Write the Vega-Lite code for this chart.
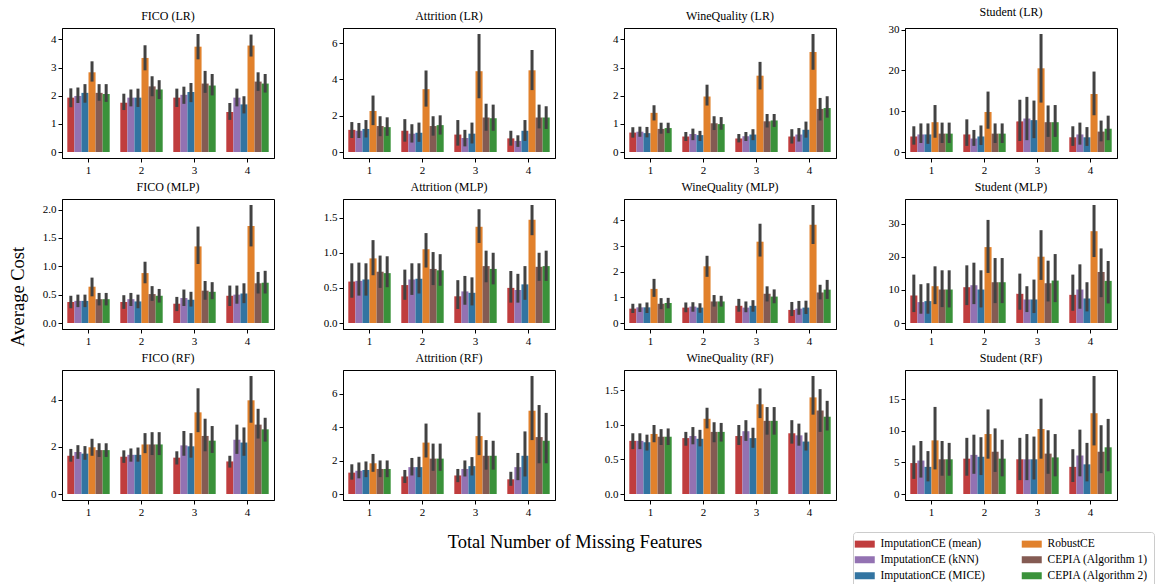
{
  "$schema": "https://vega.github.io/schema/vega-lite/v6.json",
  "background": "white",
  "padding": {"left": 8, "top": 5, "right": 5, "bottom": 5},
  "title": {"text": "Average Cost", "orient": "left", "anchor": "middle", "font": "Liberation Serif", "fontSize": 18.5, "fontWeight": "normal", "color": "#000", "offset": 4},
  "data": {"values": [
    {"panel":"FICO (LR)","missing":1,"method":"ImputationCE (mean)","cost":1.93,"lo":1.59,"hi":2.26},
    {"panel":"FICO (LR)","missing":1,"method":"ImputationCE (kNN)","cost":1.99,"lo":1.74,"hi":2.29},
    {"panel":"FICO (LR)","missing":1,"method":"ImputationCE (MICE)","cost":2.10,"lo":1.75,"hi":2.41},
    {"panel":"FICO (LR)","missing":1,"method":"RobustCE","cost":2.83,"lo":2.50,"hi":3.22},
    {"panel":"FICO (LR)","missing":1,"method":"CEPIA (Algorithm 1)","cost":2.10,"lo":1.82,"hi":2.41},
    {"panel":"FICO (LR)","missing":1,"method":"CEPIA (Algorithm 2)","cost":2.06,"lo":1.78,"hi":2.41},
    {"panel":"FICO (LR)","missing":2,"method":"ImputationCE (mean)","cost":1.75,"lo":1.49,"hi":2.07},
    {"panel":"FICO (LR)","missing":2,"method":"ImputationCE (kNN)","cost":1.93,"lo":1.62,"hi":2.22},
    {"panel":"FICO (LR)","missing":2,"method":"ImputationCE (MICE)","cost":1.93,"lo":1.60,"hi":2.25},
    {"panel":"FICO (LR)","missing":2,"method":"RobustCE","cost":3.34,"lo":2.90,"hi":3.79},
    {"panel":"FICO (LR)","missing":2,"method":"CEPIA (Algorithm 1)","cost":2.33,"lo":1.98,"hi":2.69},
    {"panel":"FICO (LR)","missing":2,"method":"CEPIA (Algorithm 2)","cost":2.22,"lo":1.88,"hi":2.55},
    {"panel":"FICO (LR)","missing":3,"method":"ImputationCE (mean)","cost":1.93,"lo":1.60,"hi":2.25},
    {"panel":"FICO (LR)","missing":3,"method":"ImputationCE (kNN)","cost":2.03,"lo":1.71,"hi":2.32},
    {"panel":"FICO (LR)","missing":3,"method":"ImputationCE (MICE)","cost":2.13,"lo":1.77,"hi":2.45},
    {"panel":"FICO (LR)","missing":3,"method":"RobustCE","cost":3.74,"lo":3.29,"hi":4.19},
    {"panel":"FICO (LR)","missing":3,"method":"CEPIA (Algorithm 1)","cost":2.43,"lo":2.10,"hi":2.88},
    {"panel":"FICO (LR)","missing":3,"method":"CEPIA (Algorithm 2)","cost":2.36,"lo":2.01,"hi":2.77},
    {"panel":"FICO (LR)","missing":4,"method":"ImputationCE (mean)","cost":1.42,"lo":1.14,"hi":1.74},
    {"panel":"FICO (LR)","missing":4,"method":"ImputationCE (kNN)","cost":1.93,"lo":1.62,"hi":2.25},
    {"panel":"FICO (LR)","missing":4,"method":"ImputationCE (MICE)","cost":1.69,"lo":1.37,"hi":1.98},
    {"panel":"FICO (LR)","missing":4,"method":"RobustCE","cost":3.78,"lo":3.39,"hi":4.17},
    {"panel":"FICO (LR)","missing":4,"method":"CEPIA (Algorithm 1)","cost":2.50,"lo":2.17,"hi":2.83},
    {"panel":"FICO (LR)","missing":4,"method":"CEPIA (Algorithm 2)","cost":2.43,"lo":2.11,"hi":2.77},

    {"panel":"Attrition (LR)","missing":1,"method":"ImputationCE (mean)","cost":1.22,"lo":0.77,"hi":1.65},
    {"panel":"Attrition (LR)","missing":1,"method":"ImputationCE (kNN)","cost":1.17,"lo":0.77,"hi":1.60},
    {"panel":"Attrition (LR)","missing":1,"method":"ImputationCE (MICE)","cost":1.27,"lo":0.80,"hi":1.76},
    {"panel":"Attrition (LR)","missing":1,"method":"RobustCE","cost":2.26,"lo":1.48,"hi":3.11},
    {"panel":"Attrition (LR)","missing":1,"method":"CEPIA (Algorithm 1)","cost":1.43,"lo":0.87,"hi":1.97},
    {"panel":"Attrition (LR)","missing":1,"method":"CEPIA (Algorithm 2)","cost":1.37,"lo":0.89,"hi":1.91},
    {"panel":"Attrition (LR)","missing":2,"method":"ImputationCE (mean)","cost":1.17,"lo":0.57,"hi":1.81},
    {"panel":"Attrition (LR)","missing":2,"method":"ImputationCE (kNN)","cost":1.01,"lo":0.52,"hi":1.53},
    {"panel":"Attrition (LR)","missing":2,"method":"ImputationCE (MICE)","cost":1.06,"lo":0.56,"hi":1.62},
    {"panel":"Attrition (LR)","missing":2,"method":"RobustCE","cost":3.46,"lo":2.50,"hi":4.49},
    {"panel":"Attrition (LR)","missing":2,"method":"CEPIA (Algorithm 1)","cost":1.43,"lo":0.90,"hi":1.97},
    {"panel":"Attrition (LR)","missing":2,"method":"CEPIA (Algorithm 2)","cost":1.48,"lo":0.96,"hi":2.02},
    {"panel":"Attrition (LR)","missing":3,"method":"ImputationCE (mean)","cost":0.96,"lo":0.35,"hi":1.76},
    {"panel":"Attrition (LR)","missing":3,"method":"ImputationCE (kNN)","cost":0.77,"lo":0.31,"hi":1.22},
    {"panel":"Attrition (LR)","missing":3,"method":"ImputationCE (MICE)","cost":1.01,"lo":0.47,"hi":1.62},
    {"panel":"Attrition (LR)","missing":3,"method":"RobustCE","cost":4.45,"lo":2.96,"hi":6.50},
    {"panel":"Attrition (LR)","missing":3,"method":"CEPIA (Algorithm 1)","cost":1.90,"lo":1.17,"hi":2.66},
    {"panel":"Attrition (LR)","missing":3,"method":"CEPIA (Algorithm 2)","cost":1.86,"lo":1.17,"hi":2.61},
    {"panel":"Attrition (LR)","missing":4,"method":"ImputationCE (mean)","cost":0.75,"lo":0.35,"hi":1.17},
    {"panel":"Attrition (LR)","missing":4,"method":"ImputationCE (kNN)","cost":0.61,"lo":0.28,"hi":0.92},
    {"panel":"Attrition (LR)","missing":4,"method":"ImputationCE (MICE)","cost":1.17,"lo":0.61,"hi":1.76},
    {"panel":"Attrition (LR)","missing":4,"method":"RobustCE","cost":4.50,"lo":3.41,"hi":5.62},
    {"panel":"Attrition (LR)","missing":4,"method":"CEPIA (Algorithm 1)","cost":1.90,"lo":1.30,"hi":2.61},
    {"panel":"Attrition (LR)","missing":4,"method":"CEPIA (Algorithm 2)","cost":1.90,"lo":1.27,"hi":2.52},

    {"panel":"WineQuality (LR)","missing":1,"method":"ImputationCE (mean)","cost":0.69,"lo":0.51,"hi":0.88},
    {"panel":"WineQuality (LR)","missing":1,"method":"ImputationCE (kNN)","cost":0.72,"lo":0.54,"hi":0.90},
    {"panel":"WineQuality (LR)","missing":1,"method":"ImputationCE (MICE)","cost":0.67,"lo":0.52,"hi":0.89},
    {"panel":"WineQuality (LR)","missing":1,"method":"RobustCE","cost":1.39,"lo":1.12,"hi":1.66},
    {"panel":"WineQuality (LR)","missing":1,"method":"CEPIA (Algorithm 1)","cost":0.82,"lo":0.65,"hi":1.04},
    {"panel":"WineQuality (LR)","missing":1,"method":"CEPIA (Algorithm 2)","cost":0.85,"lo":0.67,"hi":1.04},
    {"panel":"WineQuality (LR)","missing":2,"method":"ImputationCE (mean)","cost":0.55,"lo":0.39,"hi":0.71},
    {"panel":"WineQuality (LR)","missing":2,"method":"ImputationCE (kNN)","cost":0.64,"lo":0.42,"hi":0.83},
    {"panel":"WineQuality (LR)","missing":2,"method":"ImputationCE (MICE)","cost":0.60,"lo":0.39,"hi":0.75},
    {"panel":"WineQuality (LR)","missing":2,"method":"RobustCE","cost":1.97,"lo":1.65,"hi":2.39},
    {"panel":"WineQuality (LR)","missing":2,"method":"CEPIA (Algorithm 1)","cost":1.02,"lo":0.78,"hi":1.27},
    {"panel":"WineQuality (LR)","missing":2,"method":"CEPIA (Algorithm 2)","cost":0.99,"lo":0.79,"hi":1.24},
    {"panel":"WineQuality (LR)","missing":3,"method":"ImputationCE (mean)","cost":0.48,"lo":0.34,"hi":0.64},
    {"panel":"WineQuality (LR)","missing":3,"method":"ImputationCE (kNN)","cost":0.56,"lo":0.39,"hi":0.71},
    {"panel":"WineQuality (LR)","missing":3,"method":"ImputationCE (MICE)","cost":0.62,"lo":0.42,"hi":0.81},
    {"panel":"WineQuality (LR)","missing":3,"method":"RobustCE","cost":2.71,"lo":2.22,"hi":3.20},
    {"panel":"WineQuality (LR)","missing":3,"method":"CEPIA (Algorithm 1)","cost":1.09,"lo":0.87,"hi":1.35},
    {"panel":"WineQuality (LR)","missing":3,"method":"CEPIA (Algorithm 2)","cost":1.12,"lo":0.89,"hi":1.35},
    {"panel":"WineQuality (LR)","missing":4,"method":"ImputationCE (mean)","cost":0.55,"lo":0.30,"hi":0.81},
    {"panel":"WineQuality (LR)","missing":4,"method":"ImputationCE (kNN)","cost":0.62,"lo":0.37,"hi":0.85},
    {"panel":"WineQuality (LR)","missing":4,"method":"ImputationCE (MICE)","cost":0.79,"lo":0.51,"hi":1.08},
    {"panel":"WineQuality (LR)","missing":4,"method":"RobustCE","cost":3.55,"lo":2.92,"hi":4.19},
    {"panel":"WineQuality (LR)","missing":4,"method":"CEPIA (Algorithm 1)","cost":1.53,"lo":1.12,"hi":1.92},
    {"panel":"WineQuality (LR)","missing":4,"method":"CEPIA (Algorithm 2)","cost":1.56,"lo":1.22,"hi":1.98},

    {"panel":"Student (LR)","missing":1,"method":"ImputationCE (mean)","cost":3.8,"lo":1.8,"hi":6.3},
    {"panel":"Student (LR)","missing":1,"method":"ImputationCE (kNN)","cost":4.3,"lo":2.2,"hi":7.0},
    {"panel":"Student (LR)","missing":1,"method":"ImputationCE (MICE)","cost":4.3,"lo":2.0,"hi":7.0},
    {"panel":"Student (LR)","missing":1,"method":"RobustCE","cost":7.3,"lo":3.5,"hi":11.5},
    {"panel":"Student (LR)","missing":1,"method":"CEPIA (Algorithm 1)","cost":4.5,"lo":2.2,"hi":7.2},
    {"panel":"Student (LR)","missing":1,"method":"CEPIA (Algorithm 2)","cost":4.5,"lo":2.2,"hi":7.2},
    {"panel":"Student (LR)","missing":2,"method":"ImputationCE (mean)","cost":4.3,"lo":1.5,"hi":8.0},
    {"panel":"Student (LR)","missing":2,"method":"ImputationCE (kNN)","cost":3.3,"lo":1.5,"hi":5.4},
    {"panel":"Student (LR)","missing":2,"method":"ImputationCE (MICE)","cost":3.8,"lo":1.7,"hi":6.5},
    {"panel":"Student (LR)","missing":2,"method":"RobustCE","cost":9.8,"lo":5.7,"hi":14.8},
    {"panel":"Student (LR)","missing":2,"method":"CEPIA (Algorithm 1)","cost":4.5,"lo":2.2,"hi":7.0},
    {"panel":"Student (LR)","missing":2,"method":"CEPIA (Algorithm 2)","cost":4.5,"lo":2.2,"hi":7.0},
    {"panel":"Student (LR)","missing":3,"method":"ImputationCE (mean)","cost":7.5,"lo":2.7,"hi":12.8},
    {"panel":"Student (LR)","missing":3,"method":"ImputationCE (kNN)","cost":8.2,"lo":2.9,"hi":13.5},
    {"panel":"Student (LR)","missing":3,"method":"ImputationCE (MICE)","cost":7.8,"lo":3.4,"hi":12.6},
    {"panel":"Student (LR)","missing":3,"method":"RobustCE","cost":20.5,"lo":12.1,"hi":28.9},
    {"panel":"Student (LR)","missing":3,"method":"CEPIA (Algorithm 1)","cost":7.3,"lo":3.7,"hi":11.4},
    {"panel":"Student (LR)","missing":3,"method":"CEPIA (Algorithm 2)","cost":7.3,"lo":3.7,"hi":11.5},
    {"panel":"Student (LR)","missing":4,"method":"ImputationCE (mean)","cost":3.6,"lo":1.5,"hi":6.3},
    {"panel":"Student (LR)","missing":4,"method":"ImputationCE (kNN)","cost":4.3,"lo":1.8,"hi":7.2},
    {"panel":"Student (LR)","missing":4,"method":"ImputationCE (MICE)","cost":3.6,"lo":1.5,"hi":6.1},
    {"panel":"Student (LR)","missing":4,"method":"RobustCE","cost":14.2,"lo":9.0,"hi":19.7},
    {"panel":"Student (LR)","missing":4,"method":"CEPIA (Algorithm 1)","cost":5.0,"lo":2.6,"hi":7.7},
    {"panel":"Student (LR)","missing":4,"method":"CEPIA (Algorithm 2)","cost":5.7,"lo":2.9,"hi":8.9},

    {"panel":"FICO (MLP)","missing":1,"method":"ImputationCE (mean)","cost":0.37,"lo":0.26,"hi":0.48},
    {"panel":"FICO (MLP)","missing":1,"method":"ImputationCE (kNN)","cost":0.39,"lo":0.28,"hi":0.50},
    {"panel":"FICO (MLP)","missing":1,"method":"ImputationCE (MICE)","cost":0.39,"lo":0.28,"hi":0.50},
    {"panel":"FICO (MLP)","missing":1,"method":"RobustCE","cost":0.64,"lo":0.47,"hi":0.80},
    {"panel":"FICO (MLP)","missing":1,"method":"CEPIA (Algorithm 1)","cost":0.42,"lo":0.31,"hi":0.53},
    {"panel":"FICO (MLP)","missing":1,"method":"CEPIA (Algorithm 2)","cost":0.42,"lo":0.31,"hi":0.53},
    {"panel":"FICO (MLP)","missing":2,"method":"ImputationCE (mean)","cost":0.37,"lo":0.25,"hi":0.49},
    {"panel":"FICO (MLP)","missing":2,"method":"ImputationCE (kNN)","cost":0.42,"lo":0.30,"hi":0.53},
    {"panel":"FICO (MLP)","missing":2,"method":"ImputationCE (MICE)","cost":0.38,"lo":0.26,"hi":0.50},
    {"panel":"FICO (MLP)","missing":2,"method":"RobustCE","cost":0.88,"lo":0.70,"hi":1.08},
    {"panel":"FICO (MLP)","missing":2,"method":"CEPIA (Algorithm 1)","cost":0.51,"lo":0.39,"hi":0.65},
    {"panel":"FICO (MLP)","missing":2,"method":"CEPIA (Algorithm 2)","cost":0.48,"lo":0.36,"hi":0.60},
    {"panel":"FICO (MLP)","missing":3,"method":"ImputationCE (mean)","cost":0.34,"lo":0.21,"hi":0.46},
    {"panel":"FICO (MLP)","missing":3,"method":"ImputationCE (kNN)","cost":0.44,"lo":0.30,"hi":0.59},
    {"panel":"FICO (MLP)","missing":3,"method":"ImputationCE (MICE)","cost":0.41,"lo":0.29,"hi":0.55},
    {"panel":"FICO (MLP)","missing":3,"method":"RobustCE","cost":1.35,"lo":1.04,"hi":1.70},
    {"panel":"FICO (MLP)","missing":3,"method":"CEPIA (Algorithm 1)","cost":0.57,"lo":0.41,"hi":0.74},
    {"panel":"FICO (MLP)","missing":3,"method":"CEPIA (Algorithm 2)","cost":0.55,"lo":0.42,"hi":0.72},
    {"panel":"FICO (MLP)","missing":4,"method":"ImputationCE (mean)","cost":0.48,"lo":0.30,"hi":0.66},
    {"panel":"FICO (MLP)","missing":4,"method":"ImputationCE (kNN)","cost":0.50,"lo":0.34,"hi":0.66},
    {"panel":"FICO (MLP)","missing":4,"method":"ImputationCE (MICE)","cost":0.52,"lo":0.35,"hi":0.70},
    {"panel":"FICO (MLP)","missing":4,"method":"RobustCE","cost":1.71,"lo":1.35,"hi":2.08},
    {"panel":"FICO (MLP)","missing":4,"method":"CEPIA (Algorithm 1)","cost":0.70,"lo":0.52,"hi":0.90},
    {"panel":"FICO (MLP)","missing":4,"method":"CEPIA (Algorithm 2)","cost":0.71,"lo":0.52,"hi":0.92},

    {"panel":"Attrition (MLP)","missing":1,"method":"ImputationCE (mean)","cost":0.59,"lo":0.36,"hi":0.85},
    {"panel":"Attrition (MLP)","missing":1,"method":"ImputationCE (kNN)","cost":0.60,"lo":0.39,"hi":0.86},
    {"panel":"Attrition (MLP)","missing":1,"method":"ImputationCE (MICE)","cost":0.62,"lo":0.39,"hi":0.85},
    {"panel":"Attrition (MLP)","missing":1,"method":"RobustCE","cost":0.92,"lo":0.68,"hi":1.18},
    {"panel":"Attrition (MLP)","missing":1,"method":"CEPIA (Algorithm 1)","cost":0.73,"lo":0.50,"hi":0.96},
    {"panel":"Attrition (MLP)","missing":1,"method":"CEPIA (Algorithm 2)","cost":0.71,"lo":0.51,"hi":0.95},
    {"panel":"Attrition (MLP)","missing":2,"method":"ImputationCE (mean)","cost":0.54,"lo":0.33,"hi":0.76},
    {"panel":"Attrition (MLP)","missing":2,"method":"ImputationCE (kNN)","cost":0.62,"lo":0.40,"hi":0.85},
    {"panel":"Attrition (MLP)","missing":2,"method":"ImputationCE (MICE)","cost":0.63,"lo":0.42,"hi":0.85},
    {"panel":"Attrition (MLP)","missing":2,"method":"RobustCE","cost":1.05,"lo":0.79,"hi":1.28},
    {"panel":"Attrition (MLP)","missing":2,"method":"CEPIA (Algorithm 1)","cost":0.77,"lo":0.54,"hi":1.01},
    {"panel":"Attrition (MLP)","missing":2,"method":"CEPIA (Algorithm 2)","cost":0.75,"lo":0.53,"hi":0.98},
    {"panel":"Attrition (MLP)","missing":3,"method":"ImputationCE (mean)","cost":0.38,"lo":0.20,"hi":0.61},
    {"panel":"Attrition (MLP)","missing":3,"method":"ImputationCE (kNN)","cost":0.45,"lo":0.26,"hi":0.67},
    {"panel":"Attrition (MLP)","missing":3,"method":"ImputationCE (MICE)","cost":0.43,"lo":0.25,"hi":0.65},
    {"panel":"Attrition (MLP)","missing":3,"method":"RobustCE","cost":1.37,"lo":1.14,"hi":1.62},
    {"panel":"Attrition (MLP)","missing":3,"method":"CEPIA (Algorithm 1)","cost":0.81,"lo":0.58,"hi":1.03},
    {"panel":"Attrition (MLP)","missing":3,"method":"CEPIA (Algorithm 2)","cost":0.77,"lo":0.55,"hi":1.00},
    {"panel":"Attrition (MLP)","missing":4,"method":"ImputationCE (mean)","cost":0.50,"lo":0.29,"hi":0.74},
    {"panel":"Attrition (MLP)","missing":4,"method":"ImputationCE (kNN)","cost":0.47,"lo":0.29,"hi":0.70},
    {"panel":"Attrition (MLP)","missing":4,"method":"ImputationCE (MICE)","cost":0.55,"lo":0.33,"hi":0.81},
    {"panel":"Attrition (MLP)","missing":4,"method":"RobustCE","cost":1.47,"lo":1.25,"hi":1.68},
    {"panel":"Attrition (MLP)","missing":4,"method":"CEPIA (Algorithm 1)","cost":0.80,"lo":0.60,"hi":1.00},
    {"panel":"Attrition (MLP)","missing":4,"method":"CEPIA (Algorithm 2)","cost":0.81,"lo":0.60,"hi":1.03},

    {"panel":"WineQuality (MLP)","missing":1,"method":"ImputationCE (mean)","cost":0.56,"lo":0.39,"hi":0.75},
    {"panel":"WineQuality (MLP)","missing":1,"method":"ImputationCE (kNN)","cost":0.61,"lo":0.43,"hi":0.76},
    {"panel":"WineQuality (MLP)","missing":1,"method":"ImputationCE (MICE)","cost":0.61,"lo":0.39,"hi":0.80},
    {"panel":"WineQuality (MLP)","missing":1,"method":"RobustCE","cost":1.33,"lo":1.02,"hi":1.72},
    {"panel":"WineQuality (MLP)","missing":1,"method":"CEPIA (Algorithm 1)","cost":0.75,"lo":0.54,"hi":0.97},
    {"panel":"WineQuality (MLP)","missing":1,"method":"CEPIA (Algorithm 2)","cost":0.78,"lo":0.57,"hi":0.98},
    {"panel":"WineQuality (MLP)","missing":2,"method":"ImputationCE (mean)","cost":0.60,"lo":0.42,"hi":0.80},
    {"panel":"WineQuality (MLP)","missing":2,"method":"ImputationCE (kNN)","cost":0.64,"lo":0.44,"hi":0.81},
    {"panel":"WineQuality (MLP)","missing":2,"method":"ImputationCE (MICE)","cost":0.60,"lo":0.40,"hi":0.77},
    {"panel":"WineQuality (MLP)","missing":2,"method":"RobustCE","cost":2.21,"lo":1.80,"hi":2.62},
    {"panel":"WineQuality (MLP)","missing":2,"method":"CEPIA (Algorithm 1)","cost":0.84,"lo":0.64,"hi":1.09},
    {"panel":"WineQuality (MLP)","missing":2,"method":"CEPIA (Algorithm 2)","cost":0.84,"lo":0.64,"hi":1.06},
    {"panel":"WineQuality (MLP)","missing":3,"method":"ImputationCE (mean)","cost":0.67,"lo":0.44,"hi":0.94},
    {"panel":"WineQuality (MLP)","missing":3,"method":"ImputationCE (kNN)","cost":0.60,"lo":0.42,"hi":0.84},
    {"panel":"WineQuality (MLP)","missing":3,"method":"ImputationCE (MICE)","cost":0.67,"lo":0.44,"hi":0.89},
    {"panel":"WineQuality (MLP)","missing":3,"method":"RobustCE","cost":3.17,"lo":2.59,"hi":3.87},
    {"panel":"WineQuality (MLP)","missing":3,"method":"CEPIA (Algorithm 1)","cost":1.14,"lo":0.84,"hi":1.43},
    {"panel":"WineQuality (MLP)","missing":3,"method":"CEPIA (Algorithm 2)","cost":1.03,"lo":0.77,"hi":1.31},
    {"panel":"WineQuality (MLP)","missing":4,"method":"ImputationCE (mean)","cost":0.51,"lo":0.27,"hi":0.82},
    {"panel":"WineQuality (MLP)","missing":4,"method":"ImputationCE (kNN)","cost":0.56,"lo":0.32,"hi":0.86},
    {"panel":"WineQuality (MLP)","missing":4,"method":"ImputationCE (MICE)","cost":0.60,"lo":0.35,"hi":0.87},
    {"panel":"WineQuality (MLP)","missing":4,"method":"RobustCE","cost":3.83,"lo":3.08,"hi":4.60},
    {"panel":"WineQuality (MLP)","missing":4,"method":"CEPIA (Algorithm 1)","cost":1.19,"lo":0.92,"hi":1.49},
    {"panel":"WineQuality (MLP)","missing":4,"method":"CEPIA (Algorithm 2)","cost":1.30,"lo":0.94,"hi":1.68},

    {"panel":"Student (MLP)","missing":1,"method":"ImputationCE (mean)","cost":8.3,"lo":3.3,"hi":14.6},
    {"panel":"Student (MLP)","missing":1,"method":"ImputationCE (kNN)","cost":6.3,"lo":2.8,"hi":11.7},
    {"panel":"Student (MLP)","missing":1,"method":"ImputationCE (MICE)","cost":6.6,"lo":2.8,"hi":12.0},
    {"panel":"Student (MLP)","missing":1,"method":"RobustCE","cost":11.1,"lo":5.7,"hi":17.1},
    {"panel":"Student (MLP)","missing":1,"method":"CEPIA (Algorithm 1)","cost":10.1,"lo":4.8,"hi":15.9},
    {"panel":"Student (MLP)","missing":1,"method":"CEPIA (Algorithm 2)","cost":10.1,"lo":4.7,"hi":15.9},
    {"panel":"Student (MLP)","missing":2,"method":"ImputationCE (mean)","cost":10.8,"lo":5.4,"hi":17.4},
    {"panel":"Student (MLP)","missing":2,"method":"ImputationCE (kNN)","cost":11.4,"lo":5.7,"hi":18.2},
    {"panel":"Student (MLP)","missing":2,"method":"ImputationCE (MICE)","cost":10.1,"lo":4.7,"hi":15.9},
    {"panel":"Student (MLP)","missing":2,"method":"RobustCE","cost":22.9,"lo":15.1,"hi":31.1},
    {"panel":"Student (MLP)","missing":2,"method":"CEPIA (Algorithm 1)","cost":12.3,"lo":6.0,"hi":19.6},
    {"panel":"Student (MLP)","missing":2,"method":"CEPIA (Algorithm 2)","cost":12.3,"lo":6.0,"hi":19.6},
    {"panel":"Student (MLP)","missing":3,"method":"ImputationCE (mean)","cost":8.8,"lo":4.0,"hi":14.9},
    {"panel":"Student (MLP)","missing":3,"method":"ImputationCE (kNN)","cost":7.1,"lo":3.3,"hi":11.1},
    {"panel":"Student (MLP)","missing":3,"method":"ImputationCE (MICE)","cost":7.1,"lo":3.0,"hi":13.1},
    {"panel":"Student (MLP)","missing":3,"method":"RobustCE","cost":20.0,"lo":13.0,"hi":28.0},
    {"panel":"Student (MLP)","missing":3,"method":"CEPIA (Algorithm 1)","cost":12.0,"lo":6.5,"hi":18.8},
    {"panel":"Student (MLP)","missing":3,"method":"CEPIA (Algorithm 2)","cost":12.8,"lo":6.3,"hi":20.8},
    {"panel":"Student (MLP)","missing":4,"method":"ImputationCE (mean)","cost":8.5,"lo":3.7,"hi":14.6},
    {"panel":"Student (MLP)","missing":4,"method":"ImputationCE (kNN)","cost":10.1,"lo":4.3,"hi":17.7},
    {"panel":"Student (MLP)","missing":4,"method":"ImputationCE (MICE)","cost":7.4,"lo":3.5,"hi":12.3},
    {"panel":"Student (MLP)","missing":4,"method":"RobustCE","cost":27.7,"lo":19.9,"hi":35.6},
    {"panel":"Student (MLP)","missing":4,"method":"CEPIA (Algorithm 1)","cost":15.4,"lo":7.8,"hi":22.5},
    {"panel":"Student (MLP)","missing":4,"method":"CEPIA (Algorithm 2)","cost":12.7,"lo":5.9,"hi":18.7},

    {"panel":"FICO (RF)","missing":1,"method":"ImputationCE (mean)","cost":1.62,"lo":1.37,"hi":1.91},
    {"panel":"FICO (RF)","missing":1,"method":"ImputationCE (kNN)","cost":1.78,"lo":1.49,"hi":2.07},
    {"panel":"FICO (RF)","missing":1,"method":"ImputationCE (MICE)","cost":1.71,"lo":1.45,"hi":2.03},
    {"panel":"FICO (RF)","missing":1,"method":"RobustCE","cost":1.98,"lo":1.62,"hi":2.34},
    {"panel":"FICO (RF)","missing":1,"method":"CEPIA (Algorithm 1)","cost":1.86,"lo":1.57,"hi":2.15},
    {"panel":"FICO (RF)","missing":1,"method":"CEPIA (Algorithm 2)","cost":1.86,"lo":1.57,"hi":2.15},
    {"panel":"FICO (RF)","missing":2,"method":"ImputationCE (mean)","cost":1.58,"lo":1.32,"hi":1.85},
    {"panel":"FICO (RF)","missing":2,"method":"ImputationCE (kNN)","cost":1.66,"lo":1.37,"hi":1.93},
    {"panel":"FICO (RF)","missing":2,"method":"ImputationCE (MICE)","cost":1.66,"lo":1.37,"hi":1.97},
    {"panel":"FICO (RF)","missing":2,"method":"RobustCE","cost":2.10,"lo":1.73,"hi":2.58},
    {"panel":"FICO (RF)","missing":2,"method":"CEPIA (Algorithm 1)","cost":2.10,"lo":1.65,"hi":2.62},
    {"panel":"FICO (RF)","missing":2,"method":"CEPIA (Algorithm 2)","cost":2.10,"lo":1.65,"hi":2.62},
    {"panel":"FICO (RF)","missing":3,"method":"ImputationCE (mean)","cost":1.54,"lo":1.25,"hi":1.81},
    {"panel":"FICO (RF)","missing":3,"method":"ImputationCE (kNN)","cost":2.06,"lo":1.62,"hi":2.67},
    {"panel":"FICO (RF)","missing":3,"method":"ImputationCE (MICE)","cost":2.02,"lo":1.54,"hi":2.58},
    {"panel":"FICO (RF)","missing":3,"method":"RobustCE","cost":3.46,"lo":2.62,"hi":4.48},
    {"panel":"FICO (RF)","missing":3,"method":"CEPIA (Algorithm 1)","cost":2.46,"lo":1.81,"hi":3.19},
    {"panel":"FICO (RF)","missing":3,"method":"CEPIA (Algorithm 2)","cost":2.26,"lo":1.74,"hi":2.88},
    {"panel":"FICO (RF)","missing":4,"method":"ImputationCE (mean)","cost":1.38,"lo":1.12,"hi":1.62},
    {"panel":"FICO (RF)","missing":4,"method":"ImputationCE (kNN)","cost":2.30,"lo":1.70,"hi":2.94},
    {"panel":"FICO (RF)","missing":4,"method":"ImputationCE (MICE)","cost":2.18,"lo":1.62,"hi":2.82},
    {"panel":"FICO (RF)","missing":4,"method":"RobustCE","cost":3.97,"lo":3.02,"hi":5.00},
    {"panel":"FICO (RF)","missing":4,"method":"CEPIA (Algorithm 1)","cost":2.94,"lo":2.35,"hi":3.61},
    {"panel":"FICO (RF)","missing":4,"method":"CEPIA (Algorithm 2)","cost":2.74,"lo":2.22,"hi":3.23},

    {"panel":"Attrition (RF)","missing":1,"method":"ImputationCE (mean)","cost":1.28,"lo":0.86,"hi":1.78},
    {"panel":"Attrition (RF)","missing":1,"method":"ImputationCE (kNN)","cost":1.39,"lo":0.94,"hi":1.89},
    {"panel":"Attrition (RF)","missing":1,"method":"ImputationCE (MICE)","cost":1.44,"lo":1.01,"hi":1.95},
    {"panel":"Attrition (RF)","missing":1,"method":"RobustCE","cost":1.84,"lo":1.33,"hi":2.40},
    {"panel":"Attrition (RF)","missing":1,"method":"CEPIA (Algorithm 1)","cost":1.50,"lo":1.01,"hi":2.01},
    {"panel":"Attrition (RF)","missing":1,"method":"CEPIA (Algorithm 2)","cost":1.50,"lo":1.01,"hi":2.01},
    {"panel":"Attrition (RF)","missing":2,"method":"ImputationCE (mean)","cost":1.05,"lo":0.66,"hi":1.44},
    {"panel":"Attrition (RF)","missing":2,"method":"ImputationCE (kNN)","cost":1.61,"lo":1.11,"hi":2.16},
    {"panel":"Attrition (RF)","missing":2,"method":"ImputationCE (MICE)","cost":1.61,"lo":1.01,"hi":2.23},
    {"panel":"Attrition (RF)","missing":2,"method":"RobustCE","cost":3.08,"lo":2.19,"hi":4.22},
    {"panel":"Attrition (RF)","missing":2,"method":"CEPIA (Algorithm 1)","cost":2.12,"lo":1.39,"hi":3.02},
    {"panel":"Attrition (RF)","missing":2,"method":"CEPIA (Algorithm 2)","cost":2.12,"lo":1.39,"hi":3.02},
    {"panel":"Attrition (RF)","missing":3,"method":"ImputationCE (mean)","cost":1.11,"lo":0.71,"hi":1.50},
    {"panel":"Attrition (RF)","missing":3,"method":"ImputationCE (kNN)","cost":1.50,"lo":1.05,"hi":2.01},
    {"panel":"Attrition (RF)","missing":3,"method":"ImputationCE (MICE)","cost":1.67,"lo":1.11,"hi":2.21},
    {"panel":"Attrition (RF)","missing":3,"method":"RobustCE","cost":3.47,"lo":2.33,"hi":4.88},
    {"panel":"Attrition (RF)","missing":3,"method":"CEPIA (Algorithm 1)","cost":2.29,"lo":1.46,"hi":3.23},
    {"panel":"Attrition (RF)","missing":3,"method":"CEPIA (Algorithm 2)","cost":2.29,"lo":1.46,"hi":3.19},
    {"panel":"Attrition (RF)","missing":4,"method":"ImputationCE (mean)","cost":0.88,"lo":0.49,"hi":1.33},
    {"panel":"Attrition (RF)","missing":4,"method":"ImputationCE (kNN)","cost":1.61,"lo":0.83,"hi":2.46},
    {"panel":"Attrition (RF)","missing":4,"method":"ImputationCE (MICE)","cost":2.29,"lo":1.05,"hi":3.75},
    {"panel":"Attrition (RF)","missing":4,"method":"RobustCE","cost":4.99,"lo":3.23,"hi":7.07},
    {"panel":"Attrition (RF)","missing":4,"method":"CEPIA (Algorithm 1)","cost":3.41,"lo":1.84,"hi":5.33},
    {"panel":"Attrition (RF)","missing":4,"method":"CEPIA (Algorithm 2)","cost":3.19,"lo":1.84,"hi":4.86},

    {"panel":"WineQuality (RF)","missing":1,"method":"ImputationCE (mean)","cost":0.77,"lo":0.65,"hi":0.88},
    {"panel":"WineQuality (RF)","missing":1,"method":"ImputationCE (kNN)","cost":0.77,"lo":0.65,"hi":0.88},
    {"panel":"WineQuality (RF)","missing":1,"method":"ImputationCE (MICE)","cost":0.75,"lo":0.63,"hi":0.86},
    {"panel":"WineQuality (RF)","missing":1,"method":"RobustCE","cost":0.87,"lo":0.75,"hi":1.00},
    {"panel":"WineQuality (RF)","missing":1,"method":"CEPIA (Algorithm 1)","cost":0.83,"lo":0.71,"hi":0.94},
    {"panel":"WineQuality (RF)","missing":1,"method":"CEPIA (Algorithm 2)","cost":0.83,"lo":0.71,"hi":0.95},
    {"panel":"WineQuality (RF)","missing":2,"method":"ImputationCE (mean)","cost":0.81,"lo":0.70,"hi":0.90},
    {"panel":"WineQuality (RF)","missing":2,"method":"ImputationCE (kNN)","cost":0.84,"lo":0.72,"hi":0.97},
    {"panel":"WineQuality (RF)","missing":2,"method":"ImputationCE (MICE)","cost":0.80,"lo":0.69,"hi":0.93},
    {"panel":"WineQuality (RF)","missing":2,"method":"RobustCE","cost":1.09,"lo":0.95,"hi":1.25},
    {"panel":"WineQuality (RF)","missing":2,"method":"CEPIA (Algorithm 1)","cost":0.90,"lo":0.75,"hi":1.04},
    {"panel":"WineQuality (RF)","missing":2,"method":"CEPIA (Algorithm 2)","cost":0.90,"lo":0.76,"hi":1.03},
    {"panel":"WineQuality (RF)","missing":3,"method":"ImputationCE (mean)","cost":0.84,"lo":0.71,"hi":1.00},
    {"panel":"WineQuality (RF)","missing":3,"method":"ImputationCE (kNN)","cost":0.91,"lo":0.77,"hi":1.07},
    {"panel":"WineQuality (RF)","missing":3,"method":"ImputationCE (MICE)","cost":0.81,"lo":0.67,"hi":0.96},
    {"panel":"WineQuality (RF)","missing":3,"method":"RobustCE","cost":1.30,"lo":1.10,"hi":1.53},
    {"panel":"WineQuality (RF)","missing":3,"method":"CEPIA (Algorithm 1)","cost":1.06,"lo":0.86,"hi":1.26},
    {"panel":"WineQuality (RF)","missing":3,"method":"CEPIA (Algorithm 2)","cost":1.06,"lo":0.86,"hi":1.26},
    {"panel":"WineQuality (RF)","missing":4,"method":"ImputationCE (mean)","cost":0.88,"lo":0.73,"hi":1.07},
    {"panel":"WineQuality (RF)","missing":4,"method":"ImputationCE (kNN)","cost":0.85,"lo":0.70,"hi":1.02},
    {"panel":"WineQuality (RF)","missing":4,"method":"ImputationCE (MICE)","cost":0.76,"lo":0.63,"hi":0.89},
    {"panel":"WineQuality (RF)","missing":4,"method":"RobustCE","cost":1.40,"lo":1.15,"hi":1.71},
    {"panel":"WineQuality (RF)","missing":4,"method":"CEPIA (Algorithm 1)","cost":1.21,"lo":0.90,"hi":1.52},
    {"panel":"WineQuality (RF)","missing":4,"method":"CEPIA (Algorithm 2)","cost":1.12,"lo":0.92,"hi":1.35},

    {"panel":"Student (RF)","missing":1,"method":"ImputationCE (mean)","cost":4.9,"lo":2.4,"hi":7.7},
    {"panel":"Student (RF)","missing":1,"method":"ImputationCE (kNN)","cost":5.3,"lo":2.6,"hi":8.4},
    {"panel":"Student (RF)","missing":1,"method":"ImputationCE (MICE)","cost":4.3,"lo":2.0,"hi":6.8},
    {"panel":"Student (RF)","missing":1,"method":"RobustCE","cost":8.5,"lo":3.9,"hi":13.8},
    {"panel":"Student (RF)","missing":1,"method":"CEPIA (Algorithm 1)","cost":5.5,"lo":2.9,"hi":8.4},
    {"panel":"Student (RF)","missing":1,"method":"CEPIA (Algorithm 2)","cost":5.5,"lo":2.9,"hi":8.1},
    {"panel":"Student (RF)","missing":2,"method":"ImputationCE (mean)","cost":5.6,"lo":2.9,"hi":8.9},
    {"panel":"Student (RF)","missing":2,"method":"ImputationCE (kNN)","cost":6.2,"lo":3.2,"hi":9.4},
    {"panel":"Student (RF)","missing":2,"method":"ImputationCE (MICE)","cost":5.9,"lo":3.0,"hi":9.0},
    {"panel":"Student (RF)","missing":2,"method":"RobustCE","cost":9.5,"lo":5.6,"hi":13.4},
    {"panel":"Student (RF)","missing":2,"method":"CEPIA (Algorithm 1)","cost":6.7,"lo":3.5,"hi":10.4},
    {"panel":"Student (RF)","missing":2,"method":"CEPIA (Algorithm 2)","cost":5.6,"lo":2.8,"hi":8.6},
    {"panel":"Student (RF)","missing":3,"method":"ImputationCE (mean)","cost":5.5,"lo":2.2,"hi":8.9},
    {"panel":"Student (RF)","missing":3,"method":"ImputationCE (kNN)","cost":5.5,"lo":2.2,"hi":9.5},
    {"panel":"Student (RF)","missing":3,"method":"ImputationCE (MICE)","cost":5.5,"lo":2.3,"hi":9.1},
    {"panel":"Student (RF)","missing":3,"method":"RobustCE","cost":10.3,"lo":5.6,"hi":15.1},
    {"panel":"Student (RF)","missing":3,"method":"CEPIA (Algorithm 1)","cost":6.4,"lo":3.2,"hi":10.1},
    {"panel":"Student (RF)","missing":3,"method":"CEPIA (Algorithm 2)","cost":5.8,"lo":2.8,"hi":9.5},
    {"panel":"Student (RF)","missing":4,"method":"ImputationCE (mean)","cost":4.3,"lo":1.9,"hi":7.1},
    {"panel":"Student (RF)","missing":4,"method":"ImputationCE (kNN)","cost":6.1,"lo":2.8,"hi":10.2},
    {"panel":"Student (RF)","missing":4,"method":"ImputationCE (MICE)","cost":4.7,"lo":2.0,"hi":8.1},
    {"panel":"Student (RF)","missing":4,"method":"RobustCE","cost":12.8,"lo":7.7,"hi":18.7},
    {"panel":"Student (RF)","missing":4,"method":"CEPIA (Algorithm 1)","cost":6.7,"lo":3.3,"hi":10.9},
    {"panel":"Student (RF)","missing":4,"method":"CEPIA (Algorithm 2)","cost":7.4,"lo":3.6,"hi":11.9}
  ]},
  "facet": {
    "field": "panel",
    "type": "nominal",
    "sort": ["FICO (LR)", "Attrition (LR)", "WineQuality (LR)", "Student (LR)", "FICO (MLP)", "Attrition (MLP)", "WineQuality (MLP)", "Student (MLP)", "FICO (RF)", "Attrition (RF)", "WineQuality (RF)", "Student (RF)"],
    "header": {
      "title": "Total Number of Missing Features",
      "titleOrient": "bottom",
      "titleFont": "Liberation Serif",
      "titleFontSize": 18.5,
      "titleFontWeight": "normal",
      "titleColor": "#000",
      "titlePadding": 15,
      "labelOrient": "top",
      "labelFont": "Liberation Serif",
      "labelFontSize": 12,
      "labelColor": "#000",
      "labelPadding": 5
    }
  },
  "columns": 4,
  "spacing": {"row": 4, "column": 37},
  "resolve": {"scale": {"x": "independent", "xOffset": "independent", "y": "independent"}, "axis": {"x": "independent", "y": "independent"}},
  "spec": {
    "width": 212,
    "height": 130,
    "layer": [
      {
        "mark": {"type": "bar"},
        "encoding": {
          "x": {"field": "missing", "type": "ordinal", "scale": {"paddingInner": 0.2, "paddingOuter": 0.1}, "axis": {"title": null, "labelAngle": 0}},
          "xOffset": {"field": "method", "type": "nominal", "sort": ["ImputationCE (mean)", "ImputationCE (kNN)", "ImputationCE (MICE)", "RobustCE", "CEPIA (Algorithm 1)", "CEPIA (Algorithm 2)"], "scale": {"paddingInner": 0, "paddingOuter": 0}},
          "y": {"field": "cost", "type": "quantitative", "scale": {"zero": true, "nice": false, "padding": 6, "domainMin": 0}, "axis": {"title": null, "minExtent": 30, "maxExtent": 30, "tickCount": {"expr": "domain('child_y')[1] > 5 && domain('child_y')[1] < 6 ? 3 : 4"}}},
          "color": {
            "field": "method",
            "type": "nominal",
            "scale": {
              "domain": ["ImputationCE (mean)", "RobustCE", "ImputationCE (kNN)", "CEPIA (Algorithm 1)", "ImputationCE (MICE)", "CEPIA (Algorithm 2)"],
              "range": ["#c03d3e", "#e1812c", "#9372b2", "#845b53", "#3274a1", "#3a923a"]
            },
            "legend": {
              "title": null,
              "orient": "none",
              "legendX": 791,
              "legendY": 504,
              "columns": 2,
              "direction": "horizontal",
              "symbolType": "M-2,-0.7H2V0.7H-2Z",
              "symbolSize": 100,
              "symbolStrokeWidth": 0,
              "symbolOpacity": 1,
              "labelFont": "Liberation Serif",
              "labelFontSize": 11.5,
              "labelColor": "#000",
              "labelOffset": 10,
              "columnPadding": 36,
              "rowPadding": 3,
              "padding": 6,
              "strokeColor": "#cccccc",
              "fillColor": "white",
              "cornerRadius": 3
            }
          }
        }
      },
      {
        "mark": {"type": "rule", "color": "#424242", "strokeWidth": 3},
        "encoding": {
          "x": {"field": "missing", "type": "ordinal"},
          "xOffset": {"field": "method", "type": "nominal", "sort": ["ImputationCE (mean)", "ImputationCE (kNN)", "ImputationCE (MICE)", "RobustCE", "CEPIA (Algorithm 1)", "CEPIA (Algorithm 2)"]},
          "y": {"field": "lo", "type": "quantitative"},
          "y2": {"field": "hi"}
        }
      }
    ]
  },
  "config": {
    "font": "Liberation Serif",
    "view": {"stroke": "#000", "strokeWidth": 1},
    "axis": {
      "grid": false,
      "domainColor": "#000",
      "tickColor": "#000",
      "labelColor": "#000",
      "labelFont": "Liberation Serif",
      "labelFontSize": 11,
      "tickSize": 4,
      "labelPadding": 2
    }
  }
}
